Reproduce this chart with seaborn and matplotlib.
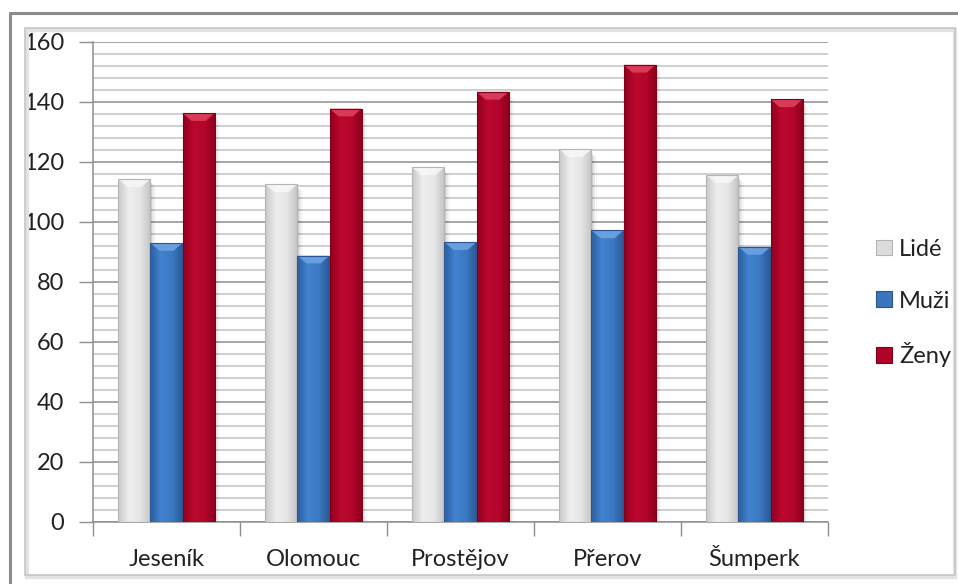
import numpy as np
import pandas as pd
import matplotlib
matplotlib.use("Agg")
import matplotlib.pyplot as plt
from matplotlib.patches import Patch, Polygon, Rectangle
from matplotlib.lines import Line2D
from matplotlib.colors import LinearSegmentedColormap
from matplotlib.ticker import MultipleLocator
import seaborn as sns

# Data
districts = ["Jeseník", "Olomouc", "Prostějov", "Přerov", "Šumperk"]
series = ["Lidé", "Muži", "Ženy"]
lide = [114.3, 112.6, 118.2, 124.2, 115.6]
muzi = [93.0, 88.8, 93.3, 97.2, 91.7]
zeny = [136.3, 137.8, 143.4, 152.4, 140.9]
y_ticks = [0, 20, 40, 60, 80, 100, 120, 140, 160]

df = pd.DataFrame({
    "okres": districts * 3,
    "serie": [s for s in series for _ in districts],
    "hodnota": lide + muzi + zeny,
})

base_colors = {"Lidé": "#dcdcdc", "Muži": "#3a75bd", "Ženy": "#b00427"}
edge_colors = {"Lidé": "#b4b4b4", "Muži": "#2a5590", "Ženy": "#7e0019"}
grad_colors = {
    "Lidé": ["#c9c9c9", "#eeeeee", "#e6e6e6", "#c4c4c4"],
    "Muži": ["#2b5d9f", "#4283cf", "#3b79c2", "#2a5896"],
    "Ženy": ["#93001f", "#bb082e", "#b4052a", "#8a001c"],
}
bevel_colors = {"Lidé": "#f8f8f8", "Muži": "#6fa6e6", "Ženy": "#e0455f"}

sns.set_theme(style="white")
plt.rcParams["font.family"] = ["Lato", "DejaVu Sans"]
plt.rcParams["text.color"] = "#222222"
FS = 17

fig = plt.figure(figsize=(9.58, 5.84), dpi=100)
W, H = 958, 584

def fx(px):
    return px / W

def fy(py):
    return 1 - py / H

# chart frame
fig.add_artist(Line2D([fx(10), fx(958)], [fy(13), fy(13)], color="#8c8c8c", lw=2.2,
                      transform=fig.transFigure))
fig.add_artist(Line2D([fx(10), fx(10)], [fy(13), fy(584)], color="#8c8c8c", lw=2.2,
                      transform=fig.transFigure))
fig.add_artist(Rectangle((fx(27), fy(577)), fx(955) - fx(27), fy(30) - fy(577),
                         transform=fig.transFigure, facecolor="none",
                         edgecolor="#e2e2e2", lw=3))
fig.add_artist(Rectangle((fx(25), fy(575)), fx(955) - fx(25), fy(28) - fy(575),
                         transform=fig.transFigure, facecolor="none",
                         edgecolor="#c6c6c6", lw=1.2))

ax = fig.add_axes([fx(93), fy(522), fx(828) - fx(93), fy(42) - fy(522)])

sns.barplot(data=df, x="okres", y="hodnota", hue="serie", order=districts,
            hue_order=series, palette=base_colors, width=0.655, gap=0,
            dodge=True, legend=False, ax=ax, zorder=3, linewidth=0)

ax.set_ylim(0, 160)
ax.set_xlim(-0.5, len(districts) - 0.5)
ax.set_xlabel("")
ax.set_ylabel("")
ax.set_yticks(y_ticks)
ax.yaxis.set_minor_locator(MultipleLocator(4))
ax.set_xticks(range(len(districts)))
ax.set_xticklabels(districts)
ax.set_xticks(np.arange(-0.5, len(districts), 1.0), minor=True)

ax.grid(False)
ax.grid(axis="y", which="major", color="#8e8e8e", lw=1.1, zorder=0)
ax.grid(axis="y", which="minor", color="#c2c2c2", lw=1.1, zorder=0)

ax.tick_params(axis="y", which="major", length=10, width=1, color="#8e8e8e",
               direction="out", labelsize=FS, labelcolor="#222222", pad=11, left=True)
ax.tick_params(axis="y", which="minor", length=0)
ax.tick_params(axis="x", which="major", length=0, labelsize=FS, labelcolor="#222222", pad=32)
ax.tick_params(axis="x", which="minor", length=10, width=1, color="#8e8e8e",
               direction="out", bottom=True)
# district names share one baseline regardless of accents
for lab in ax.get_xticklabels():
    lab.set_verticalalignment("baseline")

for side in ["top", "right"]:
    ax.spines[side].set_visible(False)
for side in ["left", "bottom"]:
    ax.spines[side].set_color("#8e8e8e")
    ax.spines[side].set_linewidth(1.1)

# shade each bar: horizontal gradient, bevelled top and a soft shadow
n = len(districts)
for i, patch in enumerate(list(ax.patches)):
    s = series[i // n]
    x0 = patch.get_x()
    w = patch.get_width()
    h = patch.get_height()
    if h <= 0:
        continue
    for k, a in enumerate([0.10, 0.06, 0.03]):
        off = 0.012 * (k + 1)
        ax.add_patch(Rectangle((x0 + off, -1.2 - k * 0.5), w, h, facecolor="#000000",
                               alpha=a, lw=0, zorder=2))
    cmap = LinearSegmentedColormap.from_list("g" + s, grad_colors[s])
    grad = np.linspace(0, 1, 64).reshape(1, -1)
    im = ax.imshow(grad, cmap=cmap, aspect="auto", extent=(x0, x0 + w, 0, h),
                   zorder=3.5, interpolation="bicubic")
    im.set_clip_path(patch)
    ax.add_patch(Polygon([(x0, h), (x0 + w, h), (x0 + w * 0.72, h - 2.6),
                          (x0 + w * 0.28, h - 2.6)], closed=True,
                         facecolor=bevel_colors[s], edgecolor="none", alpha=0.85, zorder=4))
    ax.add_patch(Rectangle((x0, 0), w, h, facecolor="none",
                           edgecolor=edge_colors[s], lw=0.8, zorder=4.5))

ax.set_xlim(-0.5, len(districts) - 0.5)
ax.set_ylim(0, 160)

# legend
handles = [Patch(facecolor=base_colors[s], edgecolor=edge_colors[s], lw=0.8) for s in series]
fig.legend(handles, series, loc="center left", bbox_to_anchor=(fx(867), fy(303)),
           frameon=False, fontsize=FS, labelspacing=1.3, handlelength=0.65,
           handleheight=0.65, handletextpad=0.3, borderaxespad=0)

fig.savefig("out.png", dpi=100)
